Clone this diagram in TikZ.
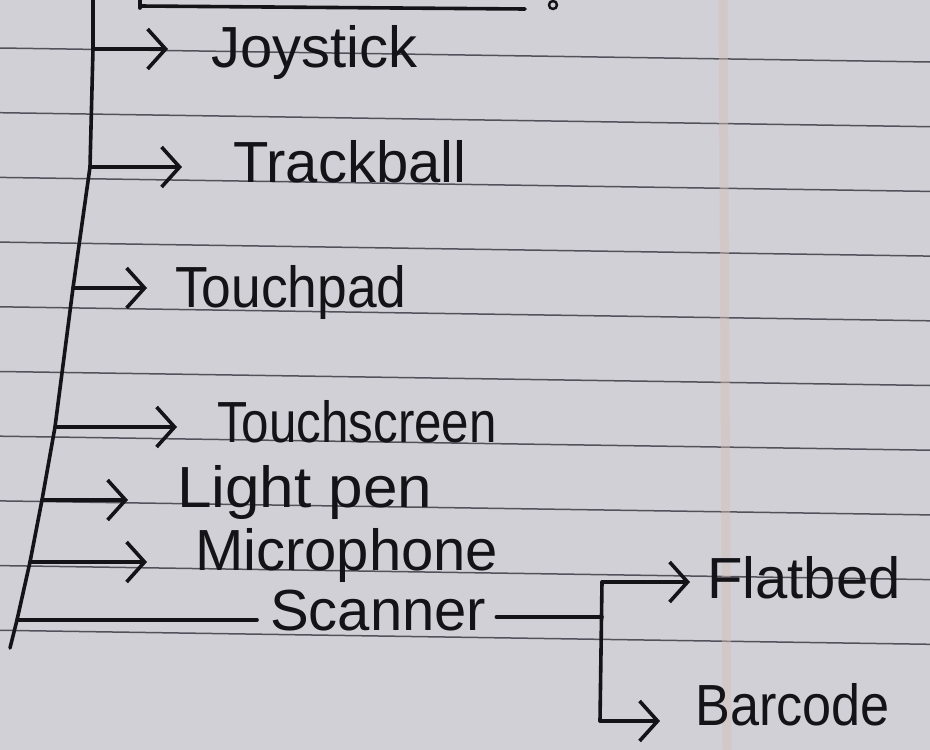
\documentclass[tikz,border=0pt]{standalone}
\usepackage{fontspec}
\usepackage{graphicx}
\newfontfamily\hand{Liberation Sans}
\usetikzlibrary{arrows.meta}
\definecolor{paper}{RGB}{208,208,214}
\definecolor{ink}{RGB}{20,20,24}
\definecolor{ruling}{RGB}{82,82,92}
\definecolor{margin}{RGB}{214,192,184}
\tikzset{
  pen/.style={ink, line width=3.6pt, line cap=round, line join=round},
  arr/.style={pen, -{Straight Barb[length=18pt,width=40pt]}},
  lbl/.style={ink, font=\hand\fontsize{58}{60}\selectfont, anchor=base west, inner sep=0pt}
}
\begin{document}
\begin{tikzpicture}[x=1pt,y=-1pt]
\useasboundingbox (0,0) rectangle (930,750);
\fill[paper] (0,0) rectangle (930,750);
\foreach \k in {0,...,9}
	\draw[ruling, line width=1.5pt] (0,48+64.7*\k) -- (930,62+64.7*\k);
\draw[margin, line width=9pt, opacity=.45] (723,0) -- (727,750);

% heading underline (cut off)
\draw[pen] (140,0) -- (140,8);
\draw[pen] (140,6) -- (525,9);
\draw[pen, line width=2.5pt] (553,5) circle (4);

% spine
\coordinate (top) at (93,0);
\coordinate (sj) at (93,49);
\coordinate (st) at (90,167);
\coordinate (sp) at (73,288);
\coordinate (ss) at (55,427);
\coordinate (sl) at (42,500);
\coordinate (sm) at (30,562);
\coordinate (sc) at (17,620);
\coordinate (bot) at (10,648);
\draw[pen] (top) -- (sj) -- (st) -- (sp) -- (ss) -- (sl) -- (sm) -- (sc) -- (bot);

\node[lbl] (joy) at (211,67) {Joystick};
\node[lbl] (trk) at (233,182) {Trackball};
\node[lbl] (tpad) at (175,307) {\scalebox{0.92}[1]{Touchpad}};
\node[lbl] (tscr) at (217,442) {\scalebox{0.85}[1]{Touchscreen}};
\node[lbl] (lpen) at (177,507) {\scalebox{1.07}[1]{Light pen}};
\node[lbl] (mic) at (195,570) {Microphone};
\node[lbl] (scan) at (270,630) {Scanner};
\node[lbl] (flat) at (707,598) {Flatbed};
\node[lbl] (bar) at (695,725) {\scalebox{0.9}[1]{Barcode}};

\draw[arr, shorten >=43pt] (sj) -- (sj -| joy.west);
\draw[arr, shorten >=51pt] (st) -- (st -| trk.west);
\draw[arr, shorten >=28pt] (sp) -- (sp -| tpad.west);
\draw[arr, shorten >=40pt] (ss) -- (ss -| tscr.west);
\draw[arr, shorten >=49pt] (sl) -- (sl -| lpen.west);
\draw[arr, shorten >=48pt] (sm) -- (sm -| mic.west);
\draw[pen, shorten >=13pt] (sc) -- (sc -| scan.west);

% scanner fork
\coordinate (fork) at (602,617);
\coordinate (ftop) at (602,582);
\coordinate (fbot) at (600,721);
\draw[pen, shorten <=10pt] (scan.east |- fork) -- (fork);
\draw[pen] (ftop) -- (fbot);
\draw[arr, shorten >=17pt] (ftop) -- (ftop -| flat.west);
\draw[arr, shorten >=35pt] (fbot) -- (fbot -| bar.west);
\end{tikzpicture}
\end{document}
